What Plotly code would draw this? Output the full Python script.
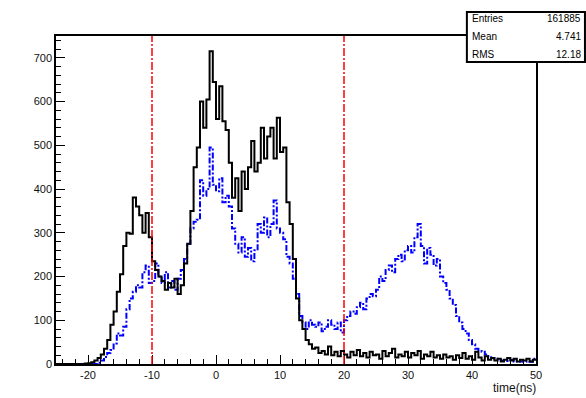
import numpy as np
import plotly.graph_objects as go

# Binning: 150 bins of 0.5 ns between -25 and 50 ns
x_min, x_max, bin_width = -25.0, 50.0, 0.5
bin_edges = np.arange(x_min, x_max + bin_width / 2, bin_width)

# Bin contents, black histogram (one value per 0.5 ns bin, starting at -25 ns)
black_counts = [
    0, 0, 0, 0, 0, 0, 0, 0, 0, 1, 2, 4,            # -25.0 .. -19.5
    8, 14, 22, 35, 55, 90, 120, 165, 205, 270,     # -19.0 .. -14.5
    300, 298, 381, 360, 340, 300, 345, 290,        # -14.0 .. -10.5
    235, 215, 200, 190, 170, 185, 175, 195,        # -10.0 .. -6.5
    160, 180, 230, 275, 350, 450, 495, 600,        # -6.0 .. -2.5
    540, 605, 715, 645, 560, 635, 555, 535,        # -2.0 .. 1.5
    460, 380, 425, 350, 440, 400, 450, 510,        # 2.0 .. 5.5
    440, 460, 540, 470, 520, 540, 470, 563,        # 6.0 .. 9.5
    485, 495, 370, 320, 240, 150, 100, 80,         # 10.0 .. 13.5
    55, 45, 35, 38, 25, 30, 22, 40,                # 14.0 .. 17.5
    20, 28, 18, 30, 22, 15, 28, 20,                # 18.0 .. 21.5
    32, 18, 25, 15, 28, 20, 22, 12,                # 22.0 .. 25.5
    30, 18, 25, 35, 15, 22, 18, 28,                # 26.0 .. 29.5
    15, 25, 20, 30, 12, 22, 18, 28,                # 30.0 .. 33.5
    15, 20, 12, 22, 15, 18, 10, 20,                # 34.0 .. 37.5
    14, 25, 12, 18, 10, 28, 15, 8,                 # 38.0 .. 41.5
    18, 10, 14, 8, 12, 6, 10, 14,                  # 42.0 .. 45.5
    8, 12, 6, 10, 8, 12, 6, 10,                    # 46.0 .. 49.5
]

# Bin contents, blue histogram
blue_counts = [
    0, 0, 0, 0, 0, 0, 0, 0, 0, 0, 0, 0, 0,         # -25.0 .. -19.0
    3, 8, 16, 25, 32, 47, 70, 65, 85,              # -18.5 .. -14.5
    125, 150, 165, 180, 175, 210, 225, 185,        # -14.0 .. -10.5
    190, 230, 200, 185, 210, 175, 190, 170,        # -10.0 .. -6.5
    195, 215, 240, 275, 310, 325, 330, 420,        # -6.0 .. -2.5
    385, 400, 495, 410, 395, 425, 370, 385,        # -2.0 .. 1.5
    360, 310, 275, 255, 290, 245, 265, 235,        # 2.0 .. 5.5
    260, 320, 300, 335, 290, 320, 374, 310,        # 6.0 .. 9.5
    300, 285, 245, 230, 195, 160, 110, 95,         # 10.0 .. 13.5
    80, 100, 90, 85, 95, 75, 85, 100,              # 14.0 .. 17.5
    90, 80, 95, 72, 100, 110, 120, 115,            # 18.0 .. 21.5
    130, 140, 125, 150, 160, 155, 170, 200,        # 22.0 .. 25.5
    190, 215, 225, 210, 240, 250, 235, 260,        # 26.0 .. 29.5
    270, 255, 290, 320, 270, 230, 265, 250,        # 30.0 .. 33.5
    225, 240, 200, 185, 170, 150, 135, 110,        # 34.0 .. 37.5
    95, 80, 70, 55, 45, 35, 30, 28,                # 38.0 .. 41.5
    22, 18, 14, 12, 10, 8, 8, 7,                   # 42.0 .. 45.5
    9, 6, 8, 6, 5, 7, 5, 12,                       # 46.0 .. 49.5
]

# Statistics box rows
stats_labels = ["Entries", "Mean", "RMS"]
stats_values = ["161885", "4.741", "12.18"]

# Dashed cut positions (ns)
cut_positions = [-10, 20]

x_ticks = [-20, -10, 0, 10, 20, 30, 40, 50]
x_tick_labels = ["-20", "-10", "0", "10", "20", "30", "40", "50"]
y_ticks = [0, 100, 200, 300, 400, 500, 600, 700]
y_tick_labels = ["0", "100", "200", "300", "400", "500", "600", "700"]
y_max = 750


def step_trace(counts, color, dash, width):
    ys = list(counts) + [counts[-1]]
    return go.Scatter(
        x=bin_edges, y=ys, mode="lines",
        line=dict(color=color, width=width, dash=dash, shape="hv"),
        hoverinfo="skip", showlegend=False,
    )


fig = go.Figure()
fig.add_trace(step_trace(blue_counts, "#0000ff", "6px,2px,2px,2px", 2))
fig.add_trace(step_trace(black_counts, "#000000", "solid", 2))

font_main = "Liberation Sans, Arial, sans-serif"

axis_common = dict(
    showgrid=False, zeroline=False,
    showline=True, linecolor="black", linewidth=1.5, mirror=True,
    ticks="inside", tickcolor="black", tickwidth=1,
    tickfont=dict(family=font_main, size=11, color="#111111"),
)

fig.update_xaxes(
    range=[x_min, x_max], tickvals=x_ticks, ticktext=x_tick_labels, ticklen=9,
    minor=dict(dtick=2, ticks="inside", ticklen=5, tickcolor="black"),
    **axis_common,
)
fig.update_yaxes(
    range=[0, y_max], tickvals=y_ticks, ticktext=y_tick_labels, ticklen=9,
    minor=dict(dtick=20, ticks="inside", ticklen=5, tickcolor="black"),
    **axis_common,
)

shapes = []
for xc in cut_positions:
    shapes.append(dict(
        type="line", xref="x", yref="paper", x0=xc, x1=xc, y0=0, y1=1,
        line=dict(color="#ff0000", width=1.5, dash="8px,2px,2px,2px"),
        layer="above",
    ))

# Statistics box in paper coordinates
box_x0, box_x1 = 0.856, 1.102
box_y0, box_y1 = 0.921, 1.073
shapes.append(dict(
    type="rect", xref="paper", yref="paper",
    x0=box_x0, x1=box_x1, y0=box_y0, y1=box_y1,
    fillcolor="white", line=dict(color="black", width=2), layer="above",
))

annotations = []
row_y = [1.052, 0.997, 0.945]
for lab, val, yy in zip(stats_labels, stats_values, row_y):
    annotations.append(dict(
        xref="paper", yref="paper", x=box_x0 + 0.007, y=yy,
        text=lab, showarrow=False, xanchor="left", yanchor="middle",
        font=dict(family=font_main, size=10, color="black"),
    ))
    annotations.append(dict(
        xref="paper", yref="paper", x=box_x1 - 0.005, y=yy,
        text=val, showarrow=False, xanchor="right", yanchor="middle",
        font=dict(family=font_main, size=10, color="black"),
    ))

annotations.append(dict(
    xref="paper", yref="paper", x=1.004, y=-0.073,
    text="time(ns)", showarrow=False, xanchor="right", yanchor="middle",
    font=dict(family=font_main, size=12, color="#111111"),
))

fig.update_layout(
    width=586, height=398,
    margin=dict(l=56, r=50, t=36, b=34),
    paper_bgcolor="white", plot_bgcolor="white",
    shapes=shapes, annotations=annotations,
    showlegend=False,
)

fig.write_html("out.html")
